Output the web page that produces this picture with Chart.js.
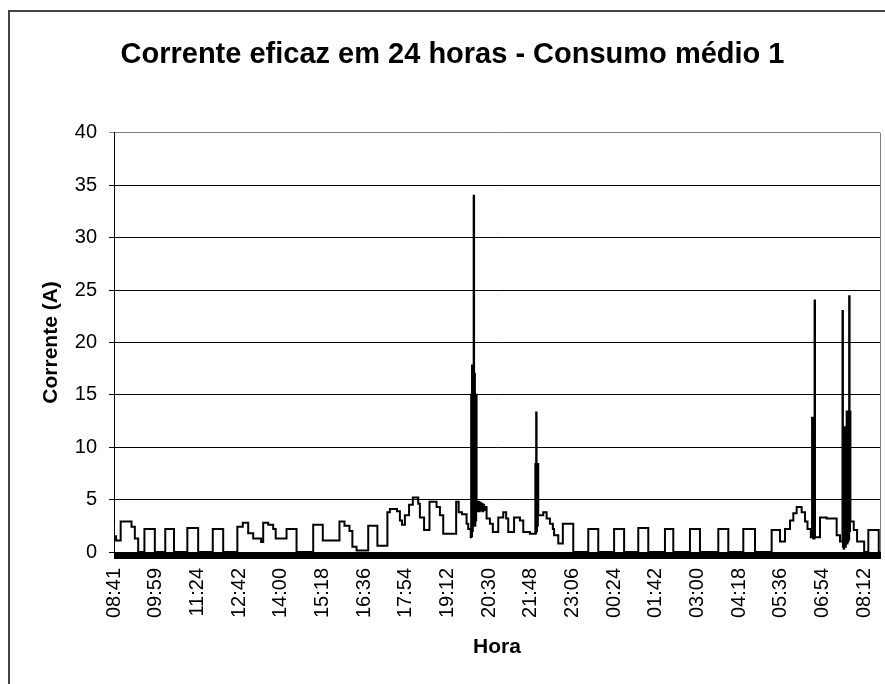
<!DOCTYPE html>
<html>
<head>
<meta charset="utf-8">
<script src="https://cdn.jsdelivr.net/npm/chart.js@4/dist/chart.umd.min.js"></script>
<style>
  html, body { margin: 0; padding: 0; background: #fff; overflow: hidden; }
  #frame { position: absolute; left: 8px; top: 10px; width: 1000px; height: 800px; border: 2px solid #444; }
  #chart { position: absolute; left: 0; top: 0; }
</style>
</head>
<body>
<div id="frame"></div>
<canvas id="chart" width="905" height="684"></canvas>
<script>
// Chart text
const chartTitle = 'Corrente eficaz em 24 horas - Consumo médio 1';
const xTitle = 'Hora';
const yTitle = 'Corrente (A)';

// Tick labels, one every 10 position units
const hourLabels = ['08:41', '09:59', '11:24', '12:42', '14:00', '15:18', '16:36', '17:54', '19:12', '20:30',
    '21:48', '23:06', '00:24', '01:42', '03:00', '04:18', '05:36', '06:54', '08:12'];

// Position along the time axis where each new reading starts
const hourPos = [
    0, 0.5, 1.6, 4.2, 5.0, 5.8,
    7.3, 9.8, 12.3, 14.4, 17.6, 20.2, 23.7, 26.2,
    29.6, 30.9, 32.2, 33.4, 35.3, 35.8, 37.0, 38.2, 38.8, 41.4, 43.8,
    47.8, 50.1, 54.1, 55.3, 56.5, 57.2, 58.2, 61.0, 63.2,
    65.6, 66.2, 67.9, 68.6, 69.1, 69.8, 70.8, 71.7, 73.0, 73.4, 74.4,
    75.7, 77.4, 78.2, 79.0, 82.1, 82.7, 83.5, 84.6, 85.0, 85.6,
    85.7, 85.8, 85.9, 86.0, 86.1, 86.2, 86.3, 86.4, 86.5, 86.6, 86.7, 86.8, 86.9,
    87.0, 87.2, 87.4, 87.6, 87.8, 88.0, 88.2, 88.4, 88.6, 88.8, 89.0,
    89.4, 90.2, 90.9, 92.2, 93.4, 94.1, 94.6, 96.0, 97.4, 98.2, 99.8,
    101.1, 101.2, 101.3, 101.4, 101.5, 101.6, 101.7, 101.8,
    103.0, 103.8, 104.6, 105.3, 105.6, 106.6, 107.7, 110.2,
    113.8, 116.2, 120.0, 122.4, 125.8, 128.2, 132.2, 134.2,
    138.2, 140.6, 145.0, 147.4, 151.0, 153.8,
    157.8, 159.8, 161.0, 162.2, 163.0, 163.8, 165.0, 165.8, 166.4, 167.2,
    167.5, 167.6, 167.7, 167.8, 167.9, 168.0, 168.1, 168.2,
    169.4, 171.0, 173.4, 174.2,
    174.8, 174.9, 175.0, 175.1, 175.2, 175.3, 175.4, 175.5, 175.6, 175.7,
    175.8, 175.9, 176.0, 176.1, 176.2, 176.3, 176.4, 176.5, 176.6, 176.7,
    177.5, 178.3, 180.0, 181.0, 183.5, 183.8
];

// RMS current (A), same order as hourPos
const currentA = [
    1.5, 1.1, 2.9, 2.4, 1.3, 0,
    2.2, 0, 2.2, 0, 2.3, 0, 2.2, 0,
    2.4, 2.8, 1.8, 1.3, 0.95, 2.8, 2.6, 2.2, 1.3, 2.2, 0,
    2.6, 1.1, 2.9, 2.5, 2.0, 0.5, 0.15, 2.5, 0.6,
    3.8, 4.1, 3.9, 3.0, 2.6, 3.5, 4.5, 5.2, 4.6, 3.3, 2.1,
    4.8, 4.3, 3.5, 1.75, 4.8, 3.8, 3.6, 2.7, 2.2, 1.4,
    15.0, 1.5, 17.8, 2.0, 17.8, 2.5, 34.0, 3.0, 17.0, 2.5, 15.0, 3.0, 15.0,
    4.8, 3.9, 4.8, 3.9, 4.7, 4.0, 4.6, 3.9, 4.5, 4.0, 4.3,
    3.2, 2.7, 1.9, 3.3, 3.8, 3.2, 1.9, 3.3, 3.0, 1.9, 1.75,
    8.4, 1.8, 13.3, 2.0, 8.4, 2.5, 8.4, 3.5,
    3.8, 3.2, 2.7, 2.2, 1.6, 0.8, 2.7, 0,
    2.2, 0, 2.2, 0, 2.3, 0, 2.2, 0,
    2.2, 0, 2.2, 0, 2.2, 0,
    2.1, 1.0, 2.2, 3.0, 3.7, 4.3, 3.8, 2.9, 2.2, 1.4,
    12.8, 1.4, 12.8, 1.3, 12.8, 1.3, 24.0, 1.4,
    3.3, 3.2, 1.6, 1.0,
    23.0, 0.5, 11.9, 0.3, 11.9, 0.5, 11.9, 0.5, 11.9, 0.8,
    13.4, 0.8, 13.4, 1.0, 13.4, 1.2, 24.4, 2.0, 13.4, 2.9,
    2.1, 1.0, 0, 2.1, 0, 0
];

const points = hourPos.map((x, i) => ({ x: x, y: currentA[i] }));

// Gray top/right edge of the plot and the heavy base line under zero
const plotFrame = {
    id: 'plotFrame',
    beforeDatasetsDraw(chart) {
        const { ctx, chartArea } = chart;
        const zero = chart.scales.y.getPixelForValue(0);
        ctx.save();
        ctx.strokeStyle = '#808080';
        ctx.lineWidth = 1;
        ctx.beginPath();
        ctx.moveTo(chartArea.right + 0.5, chartArea.top);
        ctx.lineTo(chartArea.right + 0.5, chartArea.bottom);
        ctx.stroke();
        ctx.fillStyle = '#000';
        ctx.fillRect(chartArea.left, zero, chartArea.right - chartArea.left + 1, 7);
        ctx.restore();
    }
};

Chart.defaults.font.family = 'Arial, "Liberation Sans", sans-serif';
Chart.defaults.color = '#000';

new Chart(document.getElementById('chart'), {
    type: 'line',
    data: {
        datasets: [{
            data: points,
            borderColor: '#000',
            borderWidth: 2,
            pointRadius: 0,
            stepped: true,
            fill: false,
        }],
    },
    options: {
        responsive: false,
        animation: false,
        layout: { padding: 0 },
        plugins: {
            legend: { display: false },
            tooltip: { enabled: false },
            title: {
                display: true,
                text: chartTitle,
                color: '#000',
                font: { size: 29, weight: 'bold' },
                padding: { top: 38, bottom: 60 },
            },
        },
        scales: {
            x: {
                type: 'linear',
                min: 0,
                max: 183.8,
                grid: { display: false, drawTicks: false },
                border: { display: false },
                ticks: {
                    stepSize: 10,
                    autoSkip: false,
                    includeBounds: false,
                    minRotation: 90,
                    maxRotation: 90,
                    padding: 16,
                    color: '#000',
                    font: { size: 20 },
                    callback: (v) => (v % 10 === 0 ? hourLabels[v / 10] : ''),
                },
                title: {
                    display: true,
                    text: xTitle,
                    color: '#000',
                    font: { size: 21, weight: 'bold' },
                    padding: { top: 0, bottom: 24 },
                },
                afterFit: (scale) => { scale.height = 132; },
            },
            y: {
                min: 0,
                max: 40,
                ticks: { stepSize: 5, padding: 12, color: '#000', font: { size: 20 } },
                grid: {
                    color: (c) => (c.tick && c.tick.value === 40 ? '#808080' : '#000'),
                    lineWidth: 1,
                    tickLength: 5,
                },
                border: { color: '#000', width: 1 },
                title: {
                    display: true,
                    text: yTitle,
                    color: '#000',
                    font: { size: 21, weight: 'bold' },
                    padding: { top: 39, bottom: 0 },
                },
                afterFit: (scale) => { scale.width = 114; },
            },
            // empty strip on the right so the title centres over the whole chart
            yRight: {
                position: 'right',
                min: 0,
                max: 40,
                ticks: { display: false },
                grid: { display: false, drawTicks: false },
                border: { display: false },
                afterFit: (scale) => { scale.width = 25; },
            },
        },
    },
    plugins: [plotFrame],
});
</script>
</body>
</html>
